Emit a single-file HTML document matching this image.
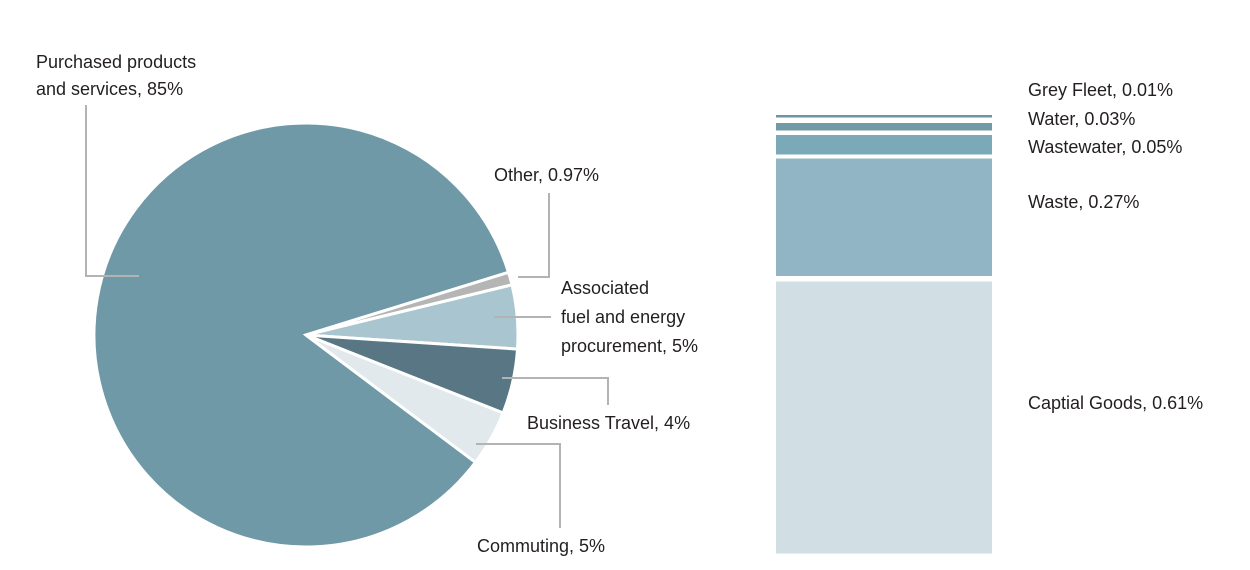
<!DOCTYPE html>
<html>
<head>
<meta charset="utf-8">
<style>
  html, body { margin:0; padding:0; background:#ffffff; }
  svg { display:block; }
  text { font-family: "Liberation Sans", Arial, sans-serif; font-size:18px; fill:#231f20; }
</style>
</head>
<body>
<svg width="1250" height="570" viewBox="0 0 1250 570" xmlns="http://www.w3.org/2000/svg">
  <rect width="1250" height="570" fill="#ffffff"/>

  <!-- Pie -->
  <g stroke="#ffffff" stroke-width="3" stroke-linejoin="miter">
    <path d="M306,335 L475.5,462.3 A212,212 0 1 1 508.5,272.3 Z" fill="#6f99a7"/>
    <path d="M306,335 L508.5,272.3 A212,212 0 0 1 512.0,284.8 Z" fill="#b5b5b5"/>
    <path d="M306,335 L512.0,284.8 A212,212 0 0 1 517.5,349.1 Z" fill="#a9c5cf"/>
    <path d="M306,335 L517.5,349.1 A212,212 0 0 1 503.1,413.0 Z" fill="#587683"/>
    <path d="M306,335 L503.1,413.0 A212,212 0 0 1 475.5,462.3 Z" fill="#e1e9ec"/>
  </g>

  <!-- Leader lines -->
  <g stroke="#b3b3b3" stroke-width="2" fill="none">
    <polyline points="86,105 86,276 139,276"/>
    <polyline points="549,193 549,277 518,277"/>
    <polyline points="494,317 551,317"/>
    <polyline points="502,378 608,378 608,405"/>
    <polyline points="476,444 560,444 560,528"/>
  </g>

  <!-- Pie labels -->
  <text x="36" y="68">Purchased products</text>
  <text x="36" y="95">and services, 85%</text>
  <text x="494" y="181">Other, 0.97%</text>
  <text x="561" y="294">Associated</text>
  <text x="561" y="323">fuel and energy</text>
  <text x="561" y="352">procurement, 5%</text>
  <text x="527" y="429">Business Travel, 4%</text>
  <text x="477" y="552">Commuting, 5%</text>

  <!-- Stacked bar -->
  <rect x="776" y="115" width="216" height="2.5" fill="#6c95a2"/>
  <rect x="776" y="123" width="216" height="7.5" fill="#7199a6"/>
  <rect x="776" y="135" width="216" height="19.5" fill="#7ba9b7"/>
  <rect x="776" y="158.5" width="216" height="117.5" fill="#91b5c4"/>
  <rect x="776" y="281.5" width="216" height="272" fill="#d1dee4"/>

  <!-- Bar labels -->
  <text x="1028" y="96">Grey Fleet, 0.01%</text>
  <text x="1028" y="125">Water, 0.03%</text>
  <text x="1028" y="153">Wastewater, 0.05%</text>
  <text x="1028" y="208">Waste, 0.27%</text>
  <text x="1028" y="409">Captial Goods, 0.61%</text>
</svg>
</body>
</html>
